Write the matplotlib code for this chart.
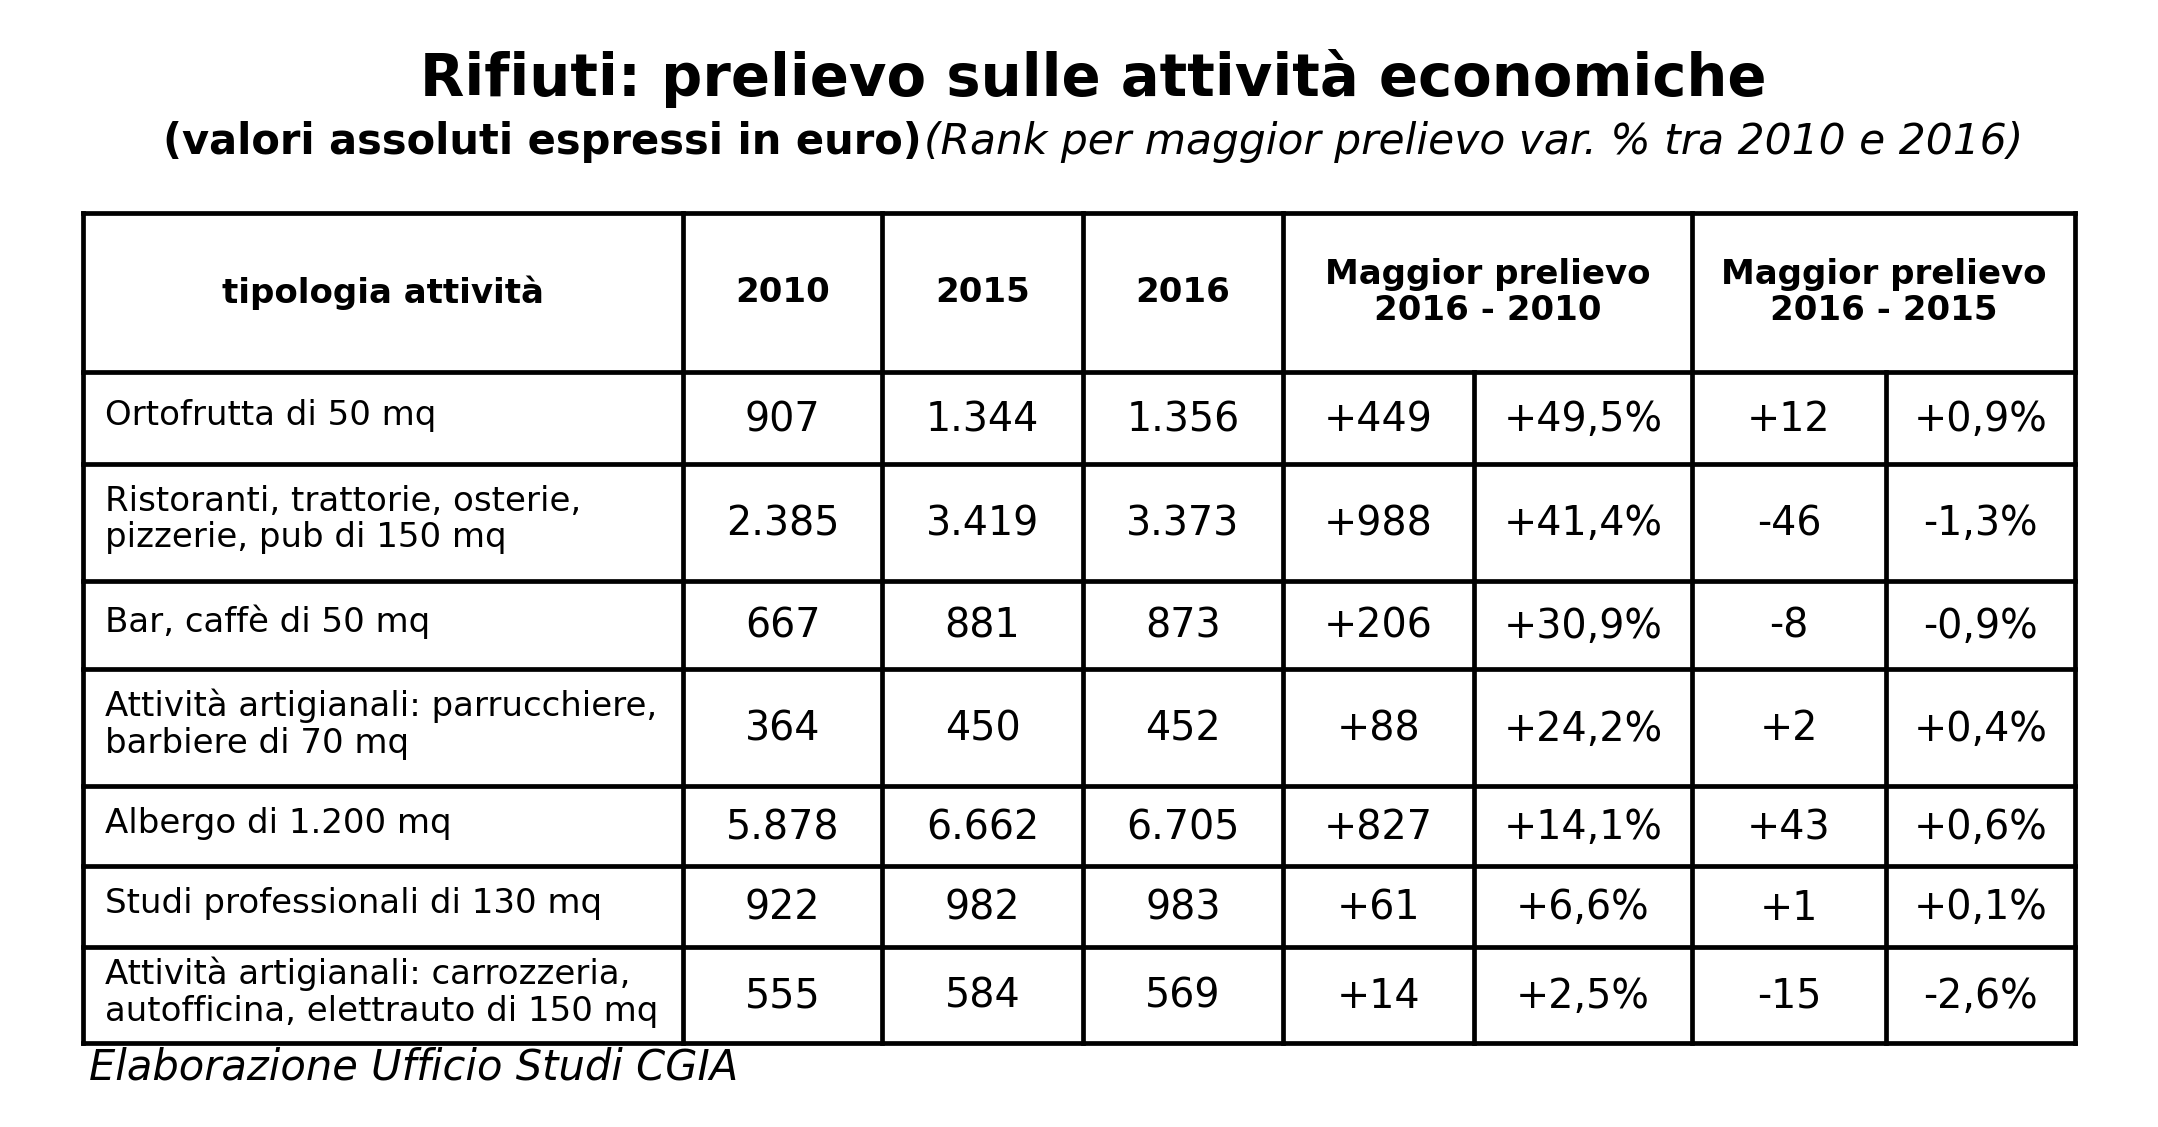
import matplotlib
matplotlib.use("Agg")
import matplotlib.pyplot as plt

categories = [
    "Ortofrutta di 50 mq",
    "Ristoranti, trattorie, osterie,\npizzerie, pub di 150 mq",
    "Bar, caffè di 50 mq",
    "Attività artigianali: parrucchiere,\nbarbiere di 70 mq",
    "Albergo di 1.200 mq",
    "Studi professionali di 130 mq",
    "Attività artigianali: carrozzeria,\nautofficina, elettrauto di 150 mq",
]
v2010 = [907, 2385, 667, 364, 5878, 922, 555]
v2015 = [1344, 3419, 881, 450, 6662, 982, 584]
v2016 = [1356, 3373, 873, 452, 6705, 983, 569]
diff_16_10 = [449, 988, 206, 88, 827, 61, 14]
pct_16_10 = [49.5, 41.4, 30.9, 24.2, 14.1, 6.6, 2.5]
diff_16_15 = [12, -46, -8, 2, 43, 1, -15]
pct_16_15 = [0.9, -1.3, -0.9, 0.4, 0.6, 0.1, -2.6]

header = ["tipologia attività", "2010", "2015", "2016",
          "Maggior prelievo\n2016 - 2010", "Maggior prelievo\n2016 - 2015"]

plt.rcParams["font.family"] = ["DejaVu Sans"]


def fmt_int(v):
    return f"{v:,}".replace(",", ".")


def fmt_diff(v):
    return f"{v:+d}"


def fmt_pct(v):
    return f"{v:+.1f}%".replace(".", ",")


# layout in pixels (figure is 2158 x 1127)
col_x = [83, 683, 882, 1083, 1283, 1474, 1692, 1886, 2075]
row_y = [213, 372, 464, 581, 669, 786, 866, 947, 1043]

fig = plt.figure(figsize=(21.58, 11.27), dpi=100)
ax = fig.add_axes([0, 0, 1, 1])
ax.set_xlim(0, 2158)
ax.set_ylim(1127, 0)
ax.axis("off")

lw = 3.4
# horizontal lines
for y in row_y:
    ax.plot([col_x[0], col_x[-1]], [y, y], color="black", lw=lw, solid_capstyle="projecting")
# vertical lines: the % sub-columns start below the header
for i, x in enumerate(col_x):
    y0 = row_y[1] if i in (5, 7) else row_y[0]
    ax.plot([x, x], [y0, row_y[-1]], color="black", lw=lw, solid_capstyle="projecting")

# header row
hy = (row_y[0] + row_y[1]) / 2
head_spans = [(0, 1), (1, 2), (2, 3), (3, 4), (4, 6), (6, 8)]
for txt, (a, b) in zip(header, head_spans):
    cx = (col_x[a] + col_x[b]) / 2
    ax.text(cx, hy, txt, ha="center", va="center", fontsize=24.5, fontweight="bold",
            linespacing=1.1)

# body rows
for r, cat in enumerate(categories):
    cy = (row_y[r + 1] + row_y[r + 2]) / 2
    ax.text(col_x[0] + 22, cy - 3, cat, ha="left", va="center", fontsize=24.5,
            linespacing=1.15)
    vals = [fmt_int(v2010[r]), fmt_int(v2015[r]), fmt_int(v2016[r]),
            fmt_diff(diff_16_10[r]), fmt_pct(pct_16_10[r]),
            fmt_diff(diff_16_15[r]), fmt_pct(pct_16_15[r])]
    for c, s in enumerate(vals):
        cx = (col_x[c + 1] + col_x[c + 2]) / 2
        ax.text(cx, cy + 2, s, ha="center", va="center", fontsize=28.5)

# titles
ax.text(1093, 78, "Rifiuti: prelievo sulle attività economiche", ha="center", va="center",
        fontsize=41.5, fontweight="bold")
ax.text(922, 142, "(valori assoluti espressi in euro)", ha="right", va="center",
        fontsize=30, fontweight="bold")
ax.text(924, 142, "(Rank per maggior prelievo var. % tra 2010 e 2016)", ha="left",
        va="center", fontsize=30.5, style="italic")

# source
ax.text(89, 1068, "Elaborazione Ufficio Studi CGIA", ha="left", va="center",
        fontsize=30, style="italic")

fig.savefig("out.png", dpi=100)
